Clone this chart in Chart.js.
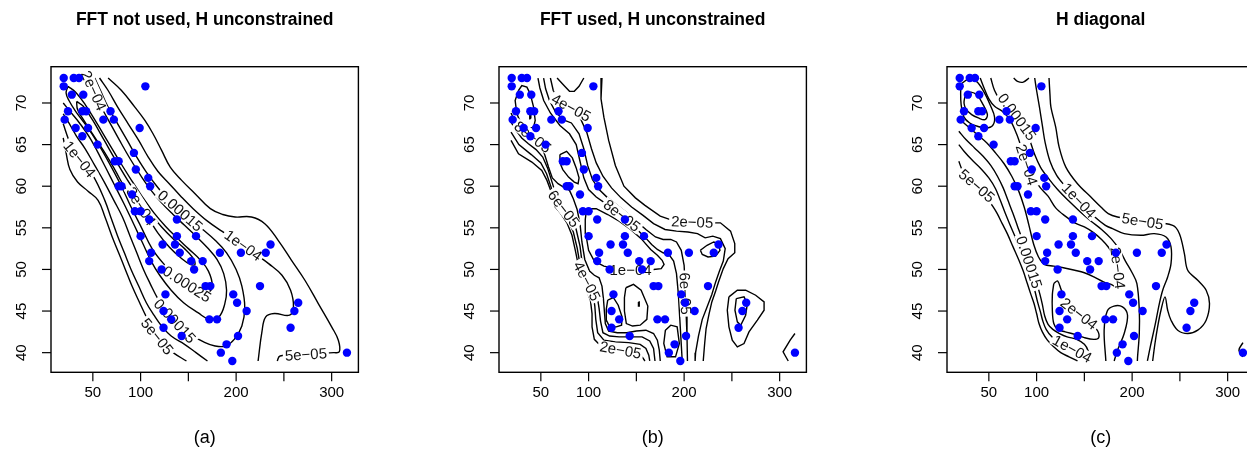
<!DOCTYPE html>
<html>
<head>
<meta charset="utf-8">
<script src="https://cdn.jsdelivr.net/npm/chart.js@4.4.1/dist/chart.umd.min.js"></script>
<style>
html, body { margin:0; padding:0; background:#fff; overflow:hidden; width:1247px; height:465px; }
canvas { position:absolute; top:0; }
</style>
</head>
<body>
<canvas id="pa" width="420" height="465" style="left:1px"></canvas>
<canvas id="pb" width="420" height="465" style="left:449px"></canvas>
<canvas id="pc" width="420" height="465" style="left:897px"></canvas>
<script>
// scatter data (x = under-5 mortality, y = life expectancy)
var ptX = [19.5,30,35.5,19.5,105,28,40,24,39,43,68.5,20.5,61,72,32,45,99,39,55,93,73,77,95,108,110,77,80,91,
           94,100,109,138,100,138,158,123,136,183,111,141,109,153,165,122,156,168,173,126,124,132,172,180,124,143,190,184,196,
           236,231,205,225,197,201,211,265,261,257,202,316];
var ptY = [73,73,73,72,72,71,71,69,69,69,69,68,68,68,67,67,67,66,65,64,63,63,62,61,60,60,60,59,
           57,57,56,56,54,54,54,53,53,52,52,52,51,51,51,50,50,48,48,47,45,44,44,44,43,42,41,40,39,
           53,52,52,48,47,46,45,46,45,43,42,40];

var xLim = [6.2, 328];
var yLim = [37.64, 74.36];
var xTicks = [50, 100, 150, 200, 250, 300];
var xTickText = ['50', '100', '', '200', '', '300'];
var yTicks = [40, 45, 50, 55, 60, 65, 70];
var panelTitles = ['FFT not used, H unconstrained', 'FFT used, H unconstrained', 'H diagonal'];
var panelTags = ['(a)', '(b)', '(c)'];

// ---- panel (a) contour lines
var a5eUpper = [[66,73],[80,71.5],[94,69.5],[104.5,67.9],[113,66.3],[122,64.3],[131,62.3],[143,60.7],[157,59.1],[173,57.3],[186,56.6],[199,56.3],[216,56.3],[230,55.5],[244,53.5],[258,51.1],[272,48.7],[286,45.9],[300,43.1],[307,41.5],[308,40.1],[302,40],[274,39.8],[246,39.6],[243,39]];
var a5eLower = [[19,65.8],[22,64],[26,62],[34,60.5],[45,59.4],[55.5,58.3],[63,56.2],[70,54],[77,52],[84,50],[91,48],[99,46],[106,44.3],[112,43],[117,42],[124,41],[134,40],[148,39]];
var a1eUpper = [[57,73],[66,71.5],[76,69.5],[87,67.5],[98,65.5],[108,63.5],[118,61.8],[130,60.3],[142,58.8],[155,57.3],[170,55.8],[185,54.6],[205,53.1],[222,51.7],[234,50.7],[248,49.3],[257,47.5],[260,45.5],[256,44.5],[240,44.7],[231,44.3],[227,42.5],[223,39]];
var a1eLower = [[19,67.5],[25,65.5],[31,64],[38,63],[50,61.3],[62.5,58.3],[69,56.2],[76,54],[83,52],[90,50],[98,48],[106,46],[114,44.5],[122,43.2],[132,42],[146,41],[158,40],[170,39]];
var a15e = [[52,73],[58,71.5],[66,69.5],[76,67.5],[86,65.5],[96,63.5],[106,61.7],[117,60],[128,58.5],[140,57.2],[152,56],[165,54.8],[178,53.5],[190,52],[200,50],[206,48],[209,45.5],[206,43.2],[198,41.6],[189,40.8],[178,40.8],[166,41.3],[152,42.2],[140,43.3],[128,44.8],[118,46.5],[110,48.3],[103,50],[96,52],[89,54],[81,56.3],[72,58.3],[62,60.5],[52,62.5],[42,64.5],[33,66],[24,67.8],[19,68.7]];
var a2e = [[46,73],[51,71.5],[58,69.7],[67,67.8],[78,65.5],[89,63.3],[100,61.3],[111,59.5],[122,58],[134,56.6],[146,55.3],[158,54],[170,52.6],[180,51.2],[187,49.5],[190,47.5],[188,45.8],[182,44.3],[172,44],[160,44.8],[145,46],[132,47.5],[120,49.3],[111,51],[102,53.2],[93,55.4],[83,57.8],[72,60.3],[60,63],[48,65.6],[36,67.6],[26,69],[19,70]];
var a25e = [[24,72],[32,71.3],[42,69.8],[54,67.6],[66,65.3],[78,63],[90,60.8],[102,58.7],[114,56.8],[126,55.2],[138,53.8],[150,52.5],[162,51.2],[171,49.8],[175,48],[170,47.2],[160,47.4],[148,48.3],[136,49.4],[124,50.7],[112,52.5],[101,55],[90,57.5],[79,60.2],[67,62.8],[55,65.2],[43,67.3],[32,69],[25,70.3],[22,71.2],[24,72]];
var a3e = [[33,70.2],[40,69.6],[50,67.9],[62,65.5],[74,63.1],[86,60.8],[98,58.7],[110,56.8],[122,55.1],[134,53.7],[146,52.5],[154,51.5],[157,50.6],[152,50.6],[142,51.4],[130,52.7],[118,54.4],[107,56.4],[96,58.4],[85,59.6],[73,62],[61,64.3],[49,66.4],[39,68.2],[34,69.2],[33,70.2]];

// ---- panel (b) contour lines
var bU1 = [[114,73],[113,70.5],[116,68.3],[121,65.5],[128,62.5],[137,60],[149,58.6],[159,57.7],[175,56.4],[190,55.8],[210,55.7],[228,55.6],[238,55.6],[248.6,54.6],[253,53.1],[253,52],[246,51.3],[241,50.1],[236,48.5],[233,47.4],[229,46.1],[226,44.6],[223,42.9],[221.5,41.1],[220,39]];
var bV = [[67,73],[75,72],[80,71.4],[85,71.4],[90,72],[95,73]];
var bD1 = [[18.8,65.5],[26.6,63.9],[40.6,62.9],[51,61.9],[56.4,60.7],[61.6,59.1],[65,57.5],[70.3,56.8],[77.3,55.6],[82.6,54.1],[86.1,52.3],[89.6,50.3],[96.6,47.9],[101.9,46.3],[103.6,44.7],[103.6,43.1],[106,41.6],[112,40.9],[121,40.6],[135,40.3],[149,39.9],[156,39.5],[159,39]];
var bU2 = [[60,73],[63,71.5],[68,70.3],[76,69.8],[84,69.3],[92,68],[98,66.5],[103,64.5],[108,62.8],[115,61.2],[124,59.8],[134,58.6],[145,57.5],[157,56.5],[168,55.5],[180,54.8],[192,54.6],[204,54.5],[214,54.3],[222,53.8],[230,54],[238,53.7],[243,52.5],[241,51],[237,49.8],[233,48.5],[229,47],[224,45.5],[219,44],[215,42],[212,40],[211.5,39]];
var bD2 = [[18.8,66.5],[27,65],[40,63.8],[50,62.8],[56,61.5],[61,59.8],[65,58.3],[71,57.1],[78,56],[84,54.5],[88,52.6],[91,50.6],[97,48.9],[101,48],[104.5,47.2],[106.5,45.6],[107.5,44],[109.5,42.4],[116,41.5],[128,41.3],[142,41.2],[154,41],[160,40.5],[163,39.7],[164,39]];
var bU3 = [[52.9,73],[55,71.7],[59,70.3],[65,69],[73,68],[82,67.6],[90,66.3],[95,64.5],[99,62.5],[104,60.8],[111,59.6],[120,58.6],[130,57.7],[140,56.8],[150,55.8],[160,54.8],[170,53.9],[178,53.6],[186,53.6],[192,53.3],[197,52.3],[200,50.5],[201,48],[202,45],[203,42],[203.5,39]];
var bD3 = [[18.8,67.7],[24,66.7],[30,65.8],[37,65.1],[45,64.4],[52,63.5],[57,62.2],[62,60.4],[66,58.9],[70,57.9],[76,57],[82,56.3],[87,54.8],[91,52.8],[93,51],[96,49.5],[100,48.2],[105,47.8],[109,46.8],[111,45.3],[112.5,43.8],[115,42.4],[122,42],[132,41.9],[144,41.9],[156,41.9],[164,41.4],[168,40.5],[169.5,39]];
var bEUpper = [[47,73],[49,71.8],[53,70.3],[60,68.8],[70,67.3],[80,66.3],[87,65],[91,63],[95,61],[100,59.6],[108,58.7],[118,57.9],[128,57.1],[138,56.2],[148,55.1],[158,54],[166,53],[172,52.4],[178,52],[184,51.8],[189,51],[192,49.5],[194,47],[195.5,44],[197,41],[198,39]];
var bELower = [[18.8,68.8],[22,68],[28,67.2],[35,66.5],[43,65.8],[50,65],[54,63.8],[58,62.3],[62,61],[68,60.3],[75,59.8],[80,59.5],[84,58.5],[88,57.2],[91,55.5],[93,53.3],[96,51.2],[101,49.8],[106,49.3],[111,49],[114,48],[115.5,46.5],[116.5,45],[117.5,43.5],[121,42.6],[130,42.4],[140,42.4],[150,42.6],[160,42.7],[168,42.3],[172,41.5],[174,40.3],[175,39]];
var bP1 = [[26.6,71.5],[30.1,72.1],[35.4,71.9],[38.9,71.1],[42.4,69.5],[44.1,67.9],[42.4,67.1],[37.1,66.9],[30.1,67.3],[24.9,68.7],[23.1,70.3],[26.6,71.5]];
var bP1dot = [[38.4,68.6],[39.3,68.7],[39.5,68.2],[38.6,68.1],[38.4,68.6]];
var bQ = [[70,63.8],[77,64.2],[83,63.4],[87,62.2],[90,61],[89,60.3],[85,60.5],[79,61.1],[73,62],[70,62.8],[70,63.8]];
var bC1 = [[98,57.3],[108,57.3],[120,56.6],[132,55.8],[144,54.8],[155,53.7],[165,52.4],[172,51.7],[177,51.1],[179,50.6],[176,50.1],[168,50],[155,49.9],[142,49.9],[128,50.1],[116,50.4],[106,51],[100,52.3],[97,54.3],[96.5,56],[98,57.3]];
var bL1 = [[120,46.3],[126,46.6],[131,45.7],[135,44.3],[134.5,43.3],[129,43.1],[122,43.1],[119,43.8],[118.5,45.2],[120,46.3]];
var bL2 = [[139,47.8],[147,48.2],[155,47.5],[162,45.6],[161,44],[154,43.3],[146,43.2],[139.5,43.5],[137.5,45],[137.5,46.6],[139,47.8]];
var bL2dot = [[152.2,46.1],[153,46.1],[153,45.6],[152.2,45.6],[152.2,46.1]];
var bBot = [[180.4,42.7],[186,43.3],[192.7,43.1],[195,41.1],[191,39.5],[182.2,39.5],[178.7,41.1],[180.4,42.7]];
var bLens = [[217,52.3],[224,52.9],[231,53.3],[236,53.1],[237.5,52.3],[233,51.6],[225,51.5],[219,51.8],[217,52.3]];
var bR1 = [[246.9,46.7],[255.7,47.5],[264.4,47.5],[274.9,46.9],[283.7,46.1],[283.7,45.1],[276.7,43.9],[267.9,42.5],[262.7,41.1],[255.7,40.7],[250.4,41.5],[246.9,43.1],[245.2,45.1],[246.9,46.7]];
var bR2 = [[254.6,46.5],[262.7,46.7],[266.2,45.9],[264.4,44.5],[259.2,43.3],[255.7,43.7],[253.2,45.1],[254.6,46.5]];
var bK = [[316,42.3],[311,41.5],[303.6,40.1],[306,39.6],[309,39]];

// ---- panel (c) contour lines
var cU5 = [[113,73],[114,71],[115,69.5],[120,67.1],[123.6,64.7],[130.6,62.3],[142.8,60.3],[156.8,58.7],[167.3,57.5],[175,56.7],[184.7,56.3],[211,55.8],[242.5,55.3],[249.5,54.3],[254.7,51.9],[258.2,49.9],[268.7,48.7],[277.5,47.5],[281,45.9],[277.5,43.9],[268.7,42.7],[258.2,42.3],[247.7,42.7],[240.7,43.9],[237.2,45.1],[234.4,46.7],[230.2,45.1],[226.7,43.1],[223.9,41.1],[221.5,39]];
var cU1 = [[98,73],[100,71.5],[103,69.5],[106,67.3],[109,65.2],[114,63],[121,61.3],[130,60],[140,58.8],[150,57.6],[161,56.3],[172,55.3],[179.5,54.9],[191.7,54.3],[209.2,54.1],[223.2,54.3],[235.5,53.9],[240.7,52.7],[240.7,50.7],[237.2,49.1],[232,47.5],[228.5,45.9],[224,43.3],[219,40.7],[216,39]];
var cArc = [[76,73],[80,72.6],[86,72.5],[92,73]];
var cU15 = [[52,73],[56,71.5],[62,70.3],[70,69.3],[78,68.6],[85,67.5],[92,65.8],[98,63.8],[104,62.3],[112,61],[122,59.6],[133,58.3],[145,57],[157,55.8],[168,54.8],[178,53.7],[186,52.5],[193,51],[200,49.6],[205,48.3],[207.5,45.1],[207.5,42.3],[205.7,39.5],[205.5,39]];
var cM2 = [[41,73],[45,71.8],[50,70.5],[56,69.6],[64,69],[72,68],[79,66.3],[85,64.3],[90,62.5],[97,61],[104,59.8],[112,58.8],[120,57.4],[130,56.4],[140,55.6],[150,55.1],[160,54.4],[168,53.6],[175,52.7],[181,51.6],[185,50.2],[186.5,48.8],[184,47.9],[178,48.2],[170,48.5],[160,49.1],[150,49.6],[140,49.9],[128,50.2],[118,50.4],[108,50.6],[102,51.5],[97,53],[92,55.3],[87,57.5],[81,59.5],[74,61.2],[66,62.7],[57,64],[48,65.2],[39,66.1],[30,67],[22,67.8],[18.6,68.3]];
var cL5 = [[18.6,63],[22,62],[30,60.8],[38,60],[47,58.7],[54,57.6],[58.8,56.7],[64,55.5],[69.3,54.3],[75,52.8],[81.5,51.1],[86,49.8],[90.3,48.3],[94,47],[97.3,45.9],[100,44.7],[102.5,43.5],[106,42.5],[111.3,41.5],[118,40.7],[125.3,40],[134,39.5],[142.8,39]];
var cL1 = [[18.6,65],[24,64.2],[32,63.2],[41,62.2],[50,61],[57,59.7],[62,58.3],[67,56.8],[72,55.4],[78,53.8],[84,52],[89,50.5],[94,49],[98,47.5],[101,46.1],[104,44.9],[106.5,43.8],[110,42.8],[116,41.9],[125,41.1],[135,40.6],[143,40.1],[148,39.5],[150,39]];
var cL15 = [[18.6,66.6],[26,65.6],[35,64.6],[44,63.6],[52,62.5],[59,61.2],[65,59.8],[70,58.3],[75,56.8],[80,55.2],[85,53.6],[89,52],[93,50.6],[97,49.4],[100.5,48.2],[103.5,47],[106,45.8],[108.5,44.4],[112,43.4],[117,42.8],[124,42.3],[132,41.9],[142,41.6],[150,41],[154,40.2],[156,39]];
var cB2 = [[118,48.3],[122,48.6],[126,47.5],[133,46],[141,45],[150,44.2],[158,43.4],[164,42.6],[165,41.8],[160,41.6],[150,41.8],[140,42.2],[130,42.5],[122,42.8],[118,43.5],[116.5,45],[116.5,47],[118,48.3]];
var cB3 = [[172.5,39],[170.7,42.7],[174,45],[181,45.6],[189.9,45.5],[195.2,44.5],[191.7,42.3],[184.7,40.3],[181.2,39]];
var cT25 = [[21,72.3],[28,72.8],[37,72.6],[45,71.3],[52,69.6],[56,68.3],[54,67.3],[47,67],[38,67.2],[30,67.6],[24,68.3],[21,69.8],[20.5,71.2],[21,72.3]];
var cT3 = [[25,70.8],[31,71.3],[38,70.9],[44,69.8],[48.5,68.6],[46,68],[39,68.2],[32,68.6],[26,69.3],[24,70],[25,70.8]];
var cK = [[316,41.2],[311.8,40.3],[316,39.5]];

// contour labels: text, line it sits on, approximate place
var aLabels = [['2e\u221204', a2e, 47.5, 71.3], ['1e\u221204', a1eLower, 34.5, 63.1], ['3e\u221204', a3e, 99, 57.5],
  ['0.00015', a15e, 145, 57.5], ['1e\u221204', a1eUpper, 207, 52.8], ['0.00025', a25e, 150, 48.5],
  ['0.00015', a15e, 139.5, 44.2], ['5e\u221205', a5eLower, 118, 42], ['5e\u221205', a5eUpper, 273, 39.8]];
var bLabels = [['4e\u221205', bU2, 82.6, 69.6], ['8e\u221205', bELower, 42, 66], ['6e\u221205', bD3, 74, 57.3],
  ['4e\u221205', bD2, 96.6, 48.5], ['2e\u221205', bD1, 133.4, 40.3], ['1e\u221204', bC1, 143.9, 50],
  ['8e\u221205', bEUpper, 135, 56.5], ['2e\u221205', bU1, 208.4, 55.7], ['6e\u221205', bU3, 201.4, 47.1]];
var cLabels = [['0.00015', cU15, 81.6, 68.5], ['1e\u221204', cU1, 146.3, 58.5], ['5e\u221205', cU5, 211, 55.8],
  ['2e\u221204', cM2, 88, 62.5], ['5e\u221205', cL5, 37.8, 60.1], ['0.00015', cL15, 95.5, 51],
  ['2e\u221204', cB2, 144.6, 44.7], ['1e\u221204', cL1, 137.6, 40.5], ['2e\u221204', cM2, 187, 50.2]];

var panels = [
  { id: 'pa', tension: 0.4, labels: aLabels,
    lines: [a5eUpper, a5eLower, a1eUpper, a1eLower, a15e, a2e, a25e, a3e] },
  { id: 'pb', tension: 0, labels: bLabels,
    lines: [bU1, bV, bD1, bU2, bD2, bU3, bD3, bEUpper, bELower, bP1, bP1dot, bQ, bC1, bL1, bL2, bL2dot, bBot, bLens, bR1, bR2, bK] },
  { id: 'pc', tension: 0.35, labels: cLabels,
    lines: [cU5, cU1, cArc, cU15, cM2, cL5, cL1, cL15, cB2, cB3, cT25, cT3, cK] }
];

var FONT = '"Liberation Sans", Arial, Helvetica, sans-serif';

// find where a label sits on its line, and the line's angle there
function placeLabel(chart, line, lx, ly) {
  var xs = chart.scales.x, ys = chart.scales.y;
  var px = xs.getPixelForValue(lx), py = ys.getPixelForValue(ly);
  var best = null;
  for (var i = 0; i < line.length - 1; i++) {
    var ax = xs.getPixelForValue(line[i][0]), ay = ys.getPixelForValue(line[i][1]);
    var bx = xs.getPixelForValue(line[i + 1][0]), by = ys.getPixelForValue(line[i + 1][1]);
    var dx = bx - ax, dy = by - ay, len2 = dx * dx + dy * dy;
    var t = len2 ? ((px - ax) * dx + (py - ay) * dy) / len2 : 0;
    t = Math.max(0, Math.min(1, t));
    var qx = ax + t * dx, qy = ay + t * dy;
    var d = (qx - px) * (qx - px) + (qy - py) * (qy - py);
    if (!best || d < best.d) best = { d: d, x: qx, y: qy, ang: Math.atan2(dy, dx) };
  }
  var a = best.ang;
  if (a > Math.PI / 2) a -= Math.PI;
  if (a < -Math.PI / 2) a += Math.PI;
  return { x: best.x, y: best.y, ang: a };
}

function framePlugin(i, p) {
  return {
    id: 'rframe' + i,
    beforeDatasetDraw: function (chart, args) {
      if (args.index !== chart.data.datasets.length - 1) return;
      var ctx = chart.ctx, ca = chart.chartArea;
      ctx.save();
      ctx.beginPath();
      ctx.rect(ca.left, ca.top, ca.right - ca.left, ca.bottom - ca.top);
      ctx.clip();
      ctx.font = '15px ' + FONT;
      ctx.textAlign = 'center';
      ctx.textBaseline = 'middle';
      p.labels.forEach(function (lb) {
        var pos = placeLabel(chart, lb[1], lb[2], lb[3]);
        ctx.save();
        ctx.translate(pos.x, pos.y);
        ctx.rotate(pos.ang);
        var w = ctx.measureText(lb[0]).width;
        ctx.fillStyle = '#fff';
        ctx.fillRect(-w / 2 - 2, -6, w + 4, 12);
        ctx.fillStyle = '#111';
        ctx.fillText(lb[0], 0, 1);
        ctx.restore();
      });
      ctx.restore();
    },
    afterDraw: function (chart) {
      var ctx = chart.ctx, ca = chart.chartArea;
      var xs = chart.scales.x, ys = chart.scales.y;
      var tick = 9;
      ctx.save();
      ctx.strokeStyle = '#000';
      ctx.fillStyle = '#000';
      ctx.lineWidth = 1.4;
      ctx.strokeRect(ca.left, ca.top, ca.right - ca.left, ca.bottom - ca.top);
      ctx.lineWidth = 1.2;
      ctx.font = '15px ' + FONT;
      ctx.textAlign = 'center';
      ctx.textBaseline = 'top';
      xTicks.forEach(function (v, k) {
        var x = xs.getPixelForValue(v);
        ctx.beginPath();
        ctx.moveTo(x, ca.bottom);
        ctx.lineTo(x, ca.bottom + tick);
        ctx.stroke();
        if (xTickText[k]) ctx.fillText(xTickText[k], x, ca.bottom + 13);
      });
      yTicks.forEach(function (v) {
        var y = ys.getPixelForValue(v);
        ctx.beginPath();
        ctx.moveTo(ca.left, y);
        ctx.lineTo(ca.left - tick, y);
        ctx.stroke();
        ctx.save();
        ctx.translate(ca.left - 29, y);
        ctx.rotate(-Math.PI / 2);
        ctx.textBaseline = 'middle';
        ctx.fillText(String(v), 0, 0);
        ctx.restore();
      });
      var cx = (ca.left + ca.right) / 2;
      ctx.textBaseline = 'middle';
      ctx.font = 'bold 17.5px ' + FONT;
      ctx.fillText(panelTitles[i], cx, 20);
      ctx.font = '18px ' + FONT;
      ctx.fillText(panelTags[i], cx, 438);
      ctx.restore();
    }
  };
}

panels.forEach(function (p, i) {
  var datasets = p.lines.map(function (line) {
    return {
      data: line.map(function (q) { return { x: q[0], y: q[1] }; }),
      showLine: true, pointRadius: 0, borderColor: '#000', borderWidth: 1.4,
      tension: p.tension, fill: false, order: 1
    };
  });
  datasets.push({
    data: ptX.map(function (x, k) { return { x: x, y: ptY[k] }; }),
    showLine: false, pointRadius: 4.2, pointBackgroundColor: '#0000ff', backgroundColor: '#0000ff',
    pointBorderWidth: 0, borderColor: 'rgba(0,0,0,0)', order: 0
  });
  new Chart(document.getElementById(p.id), {
    type: 'scatter',
    data: { datasets: datasets },
    options: {
      responsive: false,
      animation: false,
      events: [],
      layout: { padding: { left: 50, right: 62.6, top: 66.7, bottom: 92.7 } },
      plugins: { legend: { display: false }, tooltip: { enabled: false } },
      scales: {
        x: { type: 'linear', min: xLim[0], max: xLim[1], display: false },
        y: { type: 'linear', min: yLim[0], max: yLim[1], display: false }
      }
    },
    plugins: [framePlugin(i, p)]
  });
});
</script>
</body>
</html>
